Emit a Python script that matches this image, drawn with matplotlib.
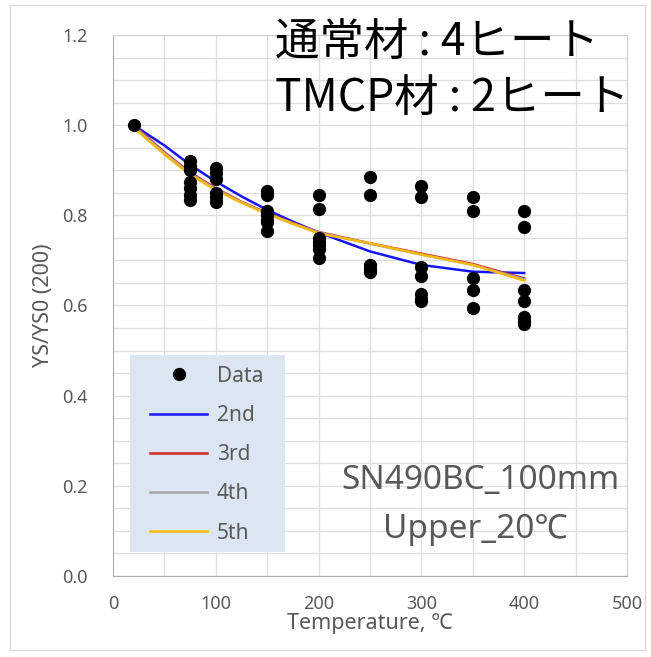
import matplotlib
matplotlib.use("Agg")
import matplotlib.pyplot as plt
from matplotlib.patches import Rectangle
from matplotlib.ticker import MultipleLocator

plt.rcParams['font.family'] = ['Noto Sans', 'DejaVu Sans']

# measured yield-strength ratios, grouped by test temperature
temp_20 = [1.0]
temp_75 = [0.92, 0.91, 0.90, 0.875, 0.86, 0.845, 0.835]
temp_100 = [0.905, 0.895, 0.88, 0.85, 0.84, 0.83]
temp_150 = [0.855, 0.845, 0.81, 0.80, 0.79, 0.785, 0.765]
temp_200 = [0.845, 0.815, 0.75, 0.74, 0.735, 0.725, 0.705]
temp_250 = [0.885, 0.845, 0.69, 0.68, 0.675]
temp_300 = [0.865, 0.84, 0.685, 0.665, 0.625, 0.615, 0.61]
temp_350 = [0.84, 0.81, 0.66, 0.635, 0.595]
temp_400 = [0.81, 0.775, 0.635, 0.61, 0.575, 0.565, 0.56]

groups = {20: temp_20, 75: temp_75, 100: temp_100, 150: temp_150,
          200: temp_200, 250: temp_250, 300: temp_300, 350: temp_350,
          400: temp_400}

# polynomial fit curves (2nd..5th order)
fit_t = [20, 50, 75, 100, 125, 150, 175, 200, 250, 300, 350, 400]
fit_2nd = [1.0, 0.955, 0.912, 0.875, 0.842, 0.812, 0.786, 0.762, 0.72, 0.69, 0.675, 0.672]
fit_3rd = [1.0, 0.94, 0.895, 0.86, 0.83, 0.805, 0.783, 0.763, 0.738, 0.715, 0.692, 0.66]
fit_4th = [0.998, 0.938, 0.893, 0.858, 0.829, 0.804, 0.782, 0.762, 0.737, 0.713, 0.69, 0.658]
fit_5th = [0.995, 0.935, 0.89, 0.856, 0.828, 0.803, 0.781, 0.76, 0.738, 0.713, 0.69, 0.655]

fig = plt.figure(figsize=(6.51, 6.57), dpi=100)
ax = fig.add_axes([113 / 651, 1 - 576 / 657, 514 / 651, 541 / 657])

xs, ys = [], []
for t, vals in groups.items():
    xs += [t] * len(vals)
    ys += vals
ax.plot(xs, ys, 'o', color='black', markersize=8.5, linestyle='none',
        label='Data', zorder=5)

ax.plot(fit_t, fit_2nd, color='#1515f0', lw=1.8, label='2nd', zorder=3)
ax.plot(fit_t, fit_3rd, color='#d42424', lw=1.8, label='3rd', zorder=3)
ax.plot(fit_t, fit_4th, color='#a5a5a5', lw=1.8, label='4th', zorder=3)
ax.plot(fit_t, fit_5th, color='#f5b914', lw=1.8, label='5th', zorder=4)

ax.set_xlim(0, 500)
ax.set_ylim(0, 1.2)
ax.xaxis.set_major_locator(MultipleLocator(100))
ax.xaxis.set_minor_locator(MultipleLocator(50))
ax.yaxis.set_major_locator(MultipleLocator(0.2))
ax.yaxis.set_minor_locator(MultipleLocator(0.05))
ax.yaxis.set_major_formatter(plt.FormatStrFormatter('%.1f'))
ax.grid(True, which='both', color='#dedede', lw=0.9, zorder=0)
ax.set_axisbelow(True)
for s in ax.spines.values():
    s.set_color('#d0d0d0')
ax.spines['left'].set_color('#b0b0b0')
ax.spines['bottom'].set_color('#b0b0b0')
ax.tick_params(which='both', length=0, labelsize=13, labelcolor='#595959')
ax.tick_params(axis='y', pad=18)
ax.tick_params(axis='x', pad=14)

ax.set_xlabel('Temperature, ℃', fontsize=15.5, color='#595959', labelpad=0)
ax.set_ylabel('YS/YS0 (200)', fontsize=15.5, color='#595959', labelpad=6)

# legend background box, then a frameless legend on top of it
ax.add_patch(Rectangle((17 / 514, 24 / 541), 155 / 514, 197 / 541,
                       transform=ax.transAxes, facecolor='#dce6f2',
                       edgecolor='none', zorder=4.5))
leg = ax.legend(loc='lower left', bbox_to_anchor=(37 / 514, 0.060),
                fontsize=15, frameon=False, handlelength=2.75,
                handletextpad=0.45, labelspacing=0.875,
                borderpad=0, borderaxespad=0)
for txt in leg.get_texts():
    txt.set_color('#595959')

fig.text(275 / 651, 1 - 42 / 657, '通常材 : 4ヒート', fontsize=32,
         family=['Noto Sans CJK JP', 'DejaVu Sans'], va='center', ha='left')
fig.text(275 / 651, 1 - 98 / 657, 'TMCP材 : 2ヒート', fontsize=32,
         family=['Noto Sans CJK JP', 'DejaVu Sans'], va='center', ha='left')

fig.text(480 / 651, 1 - 481 / 657, 'SN490BC_100mm', fontsize=24,
         color='#595959', va='center', ha='center')
fig.text(475 / 651, 1 - 530 / 657, 'Upper_20℃', fontsize=24,
         color='#595959', va='center', ha='center')

# light frame around the whole chart
fig.patches.append(Rectangle((10 / 651, 7 / 657), 635 / 651, 645 / 657,
                             transform=fig.transFigure, fill=False,
                             edgecolor='#d9d9d9', lw=1))

fig.savefig('out.png', dpi=100)
